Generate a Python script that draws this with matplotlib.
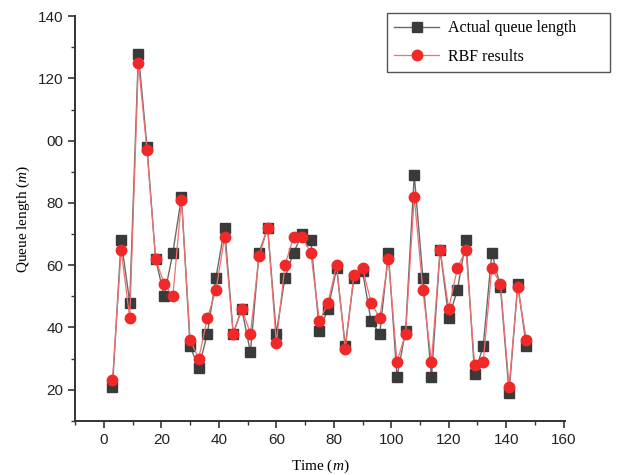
import matplotlib
matplotlib.use("Agg")
import matplotlib.pyplot as plt
from matplotlib.ticker import MultipleLocator

# sample times (m) and queue lengths
time_m = [3, 6, 9, 12, 15, 18, 21, 24, 27, 30, 33, 36, 39, 42, 45, 48, 51,
          54, 57, 60, 63, 66, 69, 72, 75, 78, 81, 84, 87, 90, 93, 96, 99,
          102, 105, 108, 111, 114, 117, 120, 123, 126, 129, 132, 135, 138,
          141, 144, 147]
actual = [21, 68, 48, 128, 98, 62, 50, 64, 82, 34, 27, 38, 56, 72, 38, 46, 32,
          64, 72, 38, 56, 64, 70, 68, 39, 46, 59, 34, 56, 58, 42, 38, 64,
          24, 39, 89, 56, 24, 65, 43, 52, 68, 25, 34, 64, 53,
          19, 54, 34]
rbf = [23, 65, 43, 125, 97, 62, 54, 50, 81, 36, 30, 43, 52, 69, 38, 46, 38,
       63, 72, 35, 60, 69, 69, 64, 42, 48, 60, 33, 57, 59, 48, 43, 62,
       29, 38, 82, 52, 29, 65, 46, 59, 65, 28, 29, 59, 54,
       21, 53, 36]

x_ticks = [0, 20, 40, 60, 80, 100, 120, 140, 160]
y_ticks = [20, 40, 60, 80, 100, 120, 140]
y_tick_labels = ["20", "40", "60", "80", "00", "120", "140"]

plt.rcParams["mathtext.fontset"] = "custom"
plt.rcParams["mathtext.it"] = "Liberation Serif:italic"
plt.rcParams["mathtext.rm"] = "Liberation Serif"

fig = plt.figure(figsize=(6.21, 4.75), dpi=100)
ax = fig.add_axes([0.121, 0.114, 0.789, 0.852])

ax.plot(time_m, actual, color="#6a6a6a", lw=1.0, marker="s", ms=6.5,
        mfc="#3a3a3a", mec="#3a3a3a", label="Actual queue length", zorder=2)
ax.plot(time_m, rbf, color="#f07070", lw=0.9, marker="o", ms=7.5,
        mfc="#f02828", mec="#f02828", label="RBF results", zorder=3)

ax.set_xlim(-10, 160.5)
ax.set_ylim(10, 140)
ax.set_xticks(x_ticks)
ax.set_yticks(y_ticks)
ax.set_yticklabels(y_tick_labels)
ax.xaxis.set_minor_locator(MultipleLocator(10))
ax.yaxis.set_minor_locator(MultipleLocator(10))

for s in ["top", "right"]:
    ax.spines[s].set_visible(False)
for s in ["left", "bottom"]:
    ax.spines[s].set_color("#333333")
    ax.spines[s].set_linewidth(1.4)

ax.tick_params(which="major", direction="out", length=5, width=1.2,
               color="#333333", labelsize=11, labelcolor="#222222")
ax.tick_params(which="minor", direction="out", length=3, width=1.0,
               color="#333333")
for lab in ax.get_xticklabels() + ax.get_yticklabels():
    lab.set_family("Liberation Sans")

ax.set_xlabel("Time ($\\it{m}$)", family="Liberation Serif", fontsize=11,
              labelpad=8)
ax.set_ylabel("Queue length ($\\it{m}$)", family="Liberation Serif",
              fontsize=11, labelpad=4)

leg = ax.legend(loc="upper left",
                bbox_to_anchor=(387 / 621, 1 - 69 / 475, 223 / 621, 56 / 475),
                bbox_transform=fig.transFigure, mode="expand",
                borderaxespad=0, fancybox=False, framealpha=1,
                edgecolor="#555555", handlelength=2.8, handletextpad=0.6,
                borderpad=0.45, labelspacing=0.8,
                prop={"family": "Liberation Serif", "size": 11.5})
leg.get_frame().set_linewidth(1.0)

fig.savefig("out.png", dpi=100)
